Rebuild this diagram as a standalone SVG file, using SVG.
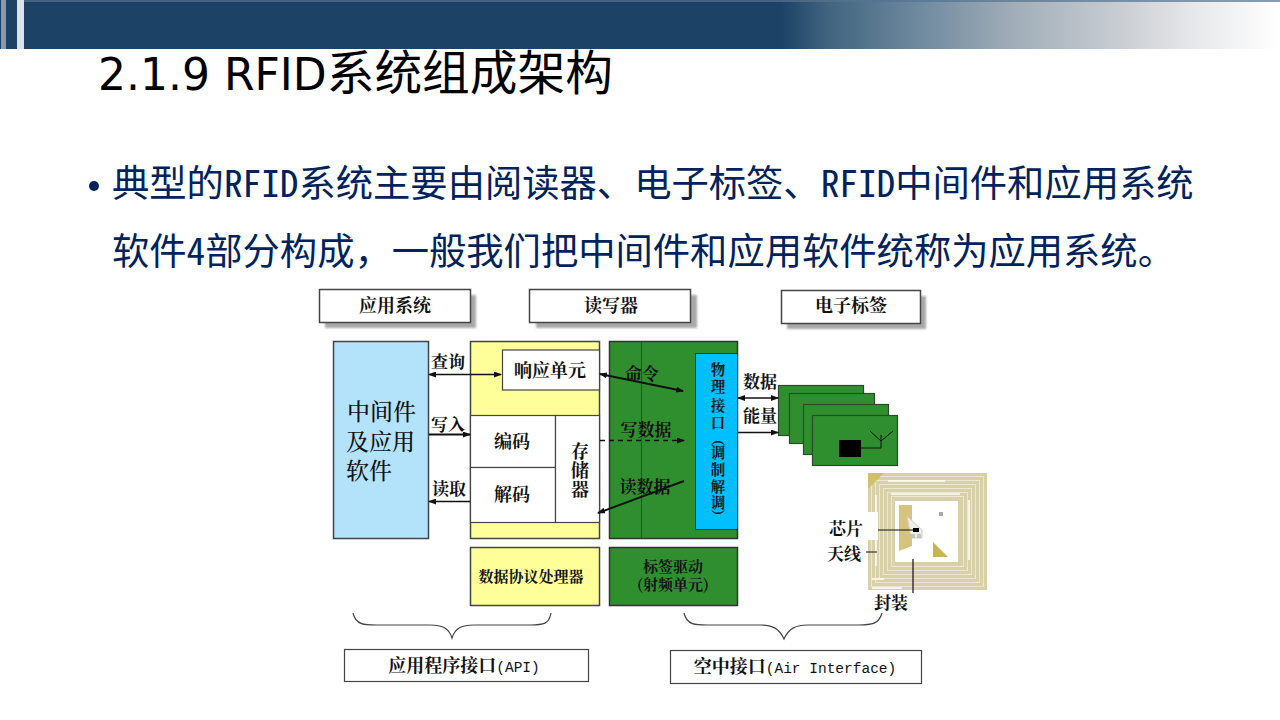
<svg xmlns="http://www.w3.org/2000/svg" width="1280" height="720" viewBox="0 0 1280 720">
<defs>
<linearGradient id="hdr" x1="0" y1="0" x2="1" y2="0"><stop offset="0" stop-color="#1c4366"/><stop offset="0.61" stop-color="#1c4366"/><stop offset="0.648" stop-color="#426580"/><stop offset="0.719" stop-color="#6f8a9f"/><stop offset="0.791" stop-color="#a0adb8"/><stop offset="0.87" stop-color="#c6cbd1"/><stop offset="0.935" stop-color="#e8e9eb"/><stop offset="1" stop-color="#ffffff"/></linearGradient>
<marker id="a" viewBox="0 0 8 6" refX="7" refY="3" markerWidth="8" markerHeight="6" markerUnits="userSpaceOnUse" orient="auto-start-reverse"><path d="M0 0L8 3L0 6Z" fill="#111"/></marker>
<filter id="sh" x="-5%" y="-20%" width="110%" height="140%"><feGaussianBlur stdDeviation="0.8"/></filter>
</defs>
<style>
.h{fill:#000;font-size:47.700px;font-family:"Noto Sans CJK SC",sans-serif}
.hl{font-family:"DejaVu Sans",sans-serif;font-size:44px}
.t{fill:#00235e;font-size:37.300px;font-family:"Noto Sans Mono CJK SC","Noto Sans CJK SC",monospace}
.l{fill:#111;font-family:"Noto Serif CJK SC","Noto Sans CJK SC",serif;font-weight:700;text-anchor:middle;font-size:17px}
.s13{font-size:15px}
.s14{font-size:14.500px}
.s18{font-size:18px}
.s23{font-size:23px;text-anchor:start;font-weight:500}
.m{font-family:"Liberation Mono",monospace;font-size:14.500px;font-weight:400}
.b{fill:#fff;stroke:#444;stroke-width:1.5}
.bt{fill:#fff;stroke:#444;stroke-width:1.2}
.s{fill:#a8a8a8}
.g{fill:#2f8f2f;stroke:#333;stroke-width:1.5}
.y{fill:#ffff99;stroke:#444;stroke-width:1.5}
.w{fill:#fff;stroke:#444;stroke-width:1.2}
.c{fill:none;stroke:#111;stroke-width:1.3}
.c2{stroke-width:1.9}
.br{fill:none;stroke:#444;stroke-width:1.2}
.tg{fill:#2f8f2f;stroke:#2a4a2a;stroke-width:1.200}
.tr{fill:none;stroke:#ece7d2;stroke-width:1}
</style>
<rect width="1280" height="720" fill="#fff"/>
<g id="header">
<rect x="0" y="0" width="1280" height="49" fill="url(#hdr)"/>
<rect x="0" y="0" width="24" height="49" fill="#1c4366"/>
<rect x="1" y="0" width="5" height="49" fill="#8d99a6"/>
<rect x="17" y="0" width="7" height="49" fill="#dfe3e7"/>
<rect x="24" y="0" width="1256" height="2" fill="#55748f" opacity=".7"/>
</g>
<text class="h" x="98" y="90"><tspan class="hl">2.1.9 RFID</tspan>系统组成架构</text>
<circle cx="94" cy="186" r="5" fill="#00235e"/>
<text class="t" x="112" y="197">典型的RFID系统主要由阅读器、电子标签、RFID中间件和应用系统</text>
<text class="t" x="112" y="265">软件4部分构成，一般我们把中间件和应用软件统称为应用系统。</text>

<g id="hdr-app"><rect class="s" x="325" y="295" width="151" height="33" filter="url(#sh)"/><rect class="b" x="319.500" y="289.500" width="151" height="33"/><text class="l s18" x="395" y="312">应用系统</text></g>
<g id="hdr-rw"><rect class="s" x="536" y="295" width="161" height="33" filter="url(#sh)"/><rect class="b" x="529.500" y="289.500" width="161" height="33"/><text class="l s18" x="611" y="312">读写器</text></g>
<g id="hdr-tag"><rect class="s" x="787" y="296" width="139" height="33" filter="url(#sh)"/><rect class="b" x="781.500" y="290.500" width="139" height="33"/><text class="l s18" x="851" y="312">电子标签</text></g>

<g id="middleware"><rect x="333.500" y="341.500" width="95" height="197" fill="#b3e3fb" stroke="#444" stroke-width="1.5"/>
<text class="l s23" x="347" y="420">中间件</text><text class="l s23" x="346" y="450">及应用</text><text class="l s23" x="346" y="479">软件</text></g>

<g id="processor-frame"><rect class="y" x="470.500" y="341.500" width="129" height="197"/></g>
<g id="response"><rect class="w" x="502.500" y="350" width="97" height="40"/><text class="l s18" x="550" y="377">响应单元</text></g>
<g id="encode"><rect class="w" x="470.500" y="415.500" width="85" height="52"/><text class="l s18" x="512" y="448">编码</text></g>
<g id="decode"><rect class="w" x="470.500" y="467.500" width="85" height="55"/><text class="l s18" x="512" y="501">解码</text></g>
<g id="memory"><rect class="w" x="555.500" y="415.500" width="44" height="107"/><text class="l s18" x="580" y="458">存</text><text class="l s18" x="580" y="477">储</text><text class="l s18" x="580" y="496">器</text></g>

<g id="reader"><rect class="g" x="609.500" y="341.500" width="128" height="197"/><path d="M641.500 342V538" stroke="#1f5f1f" stroke-width="1.2"/></g>
<g id="phy"><rect x="695.500" y="353.500" width="42" height="176" fill="#00bfff" stroke="#333"/>
<text class="l s14" x="718" y="375">物</text><text class="l s14" x="718" y="392">理</text><text class="l s14" x="718" y="411">接</text><text class="l s14" x="718" y="428">口</text><text class="l s14" x="718" y="444">︵</text><text class="l s14" x="718" y="458">调</text><text class="l s14" x="718" y="475">制</text><text class="l s14" x="718" y="492">解</text><text class="l s14" x="718" y="508">调</text><text class="l s14" x="718" y="522">︶</text></g>

<g id="proto"><rect class="y" x="470.500" y="547.500" width="129" height="58"/><text class="l s13" x="531" y="582">数据协议处理器</text></g>
<g id="driver"><rect class="g" x="609.500" y="547.500" width="128" height="58"/><text class="l s13" x="673" y="572">标签驱动</text><text class="l s13" x="673" y="590">(射频单元)</text></g>

<g id="tags">
<rect class="tg" x="778.500" y="385.500" width="85" height="50"/>
<rect class="tg" x="789.500" y="393.500" width="85" height="50"/>
<rect class="tg" x="803.500" y="404.500" width="85" height="50"/>
<rect class="tg" x="812.500" y="415.500" width="85" height="50"/>
<rect x="839" y="440" width="22" height="17"/>
<path d="M861 448H881V435M870 431L881 441L893 431" fill="none" stroke="#111" stroke-width="1"/>
</g>

<g id="inlay">
<rect x="868" y="473" width="119" height="117" fill="#d8d0a8"/>
<rect class="tr" x="871.500" y="476.500" width="112" height="110"/><rect class="tr" x="875.500" y="480.500" width="104" height="102"/><rect class="tr" x="879.500" y="484.500" width="96" height="94"/><rect class="tr" x="883.500" y="488.500" width="88" height="86"/><rect class="tr" x="887.500" y="492.500" width="80" height="78"/><rect class="tr" x="891.500" y="496.500" width="72" height="70"/>
<path d="M888 481H945M891 494H960M969 500V560M876 495V566M872 579H884M872 588H902" stroke="#fff" stroke-width="1.500" fill="none"/>
<rect x="895" y="501" width="63" height="61" fill="#fff"/>
<path d="M868 473H884L868 489Z" fill="#d2bf6e"/>
<path d="M899 505H912V546L899 551Z" fill="#d6c47c"/>
<path d="M933 542L948 557H933Z" fill="#c9b357"/>
<path d="M907 516L922 530V538H911Z" fill="#efeee8" stroke="#ccc"/>
<rect x="910" y="534" width="5" height="4" fill="#c4c4bc"/><rect x="917" y="534" width="4" height="4" fill="#c4c4bc"/>
<rect x="913" y="528" width="6" height="4" fill="#000"/>
<rect x="939" y="512" width="4" height="4" fill="#aaa"/>
<rect x="868" y="512" width="10" height="28" fill="#fff"/>
</g>

<g id="connectors">
<path class="c" d="M429 374.500H501" marker-start="url(#a)" marker-end="url(#a)"/>
<path class="c c2" d="M429 434.500H470" marker-end="url(#a)"/>
<path class="c" d="M470 501.500H429" marker-end="url(#a)"/>
<path class="c c2" d="M600 374L683 391" marker-start="url(#a)" marker-end="url(#a)"/>
<path class="c" d="M600 440.500H684" stroke-dasharray="5 4" marker-end="url(#a)"/>
<path class="c c2" d="M684 481L598 513" marker-end="url(#a)"/>
<path class="c" d="M738 398H778" marker-start="url(#a)" marker-end="url(#a)"/>
<path class="c" d="M738 432.500H778" marker-end="url(#a)"/>
<path d="M878 530H914M866 552H877M913 559V593" fill="none" stroke="#111" stroke-width="1.2"/>
<path class="br" d="M353 613C356 626 366 625 380 625H430C442 625 449 628 452 638C455 628 462 625 474 625H530C544 625 549 624 551 613"/>
<path class="br" d="M684 613C687 626 697 625 711 625H760C772 625 779 628 784 639C789 628 796 625 808 625H858C872 625 879 624 882 613"/>
</g>
<g id="labels">
<text class="l" x="448" y="368">查询</text><text class="l" x="448" y="431">写入</text><text class="l" x="449" y="495">读取</text>
<text class="l" x="642" y="380">命令</text><text class="l" x="646" y="436">写数据</text><text class="l" x="645" y="493">读数据</text>
<text class="l" x="760" y="388">数据</text><text class="l" x="760" y="422">能量</text>
<text class="l" x="846" y="535">芯片</text><text class="l" x="844" y="560">天线</text><text class="l" x="891" y="609">封装</text>
</g>
<g id="api"><rect class="bt" x="344.500" y="649.500" width="244" height="32"/><text class="l s18" x="464" y="672">应用程序接口<tspan class="m">(API)</tspan></text></g>
<g id="air"><rect class="bt" x="670.500" y="650.500" width="251" height="33"/><text class="l s18" x="795" y="673">空中接口<tspan class="m">(Air Interface)</tspan></text></g>
</svg>
